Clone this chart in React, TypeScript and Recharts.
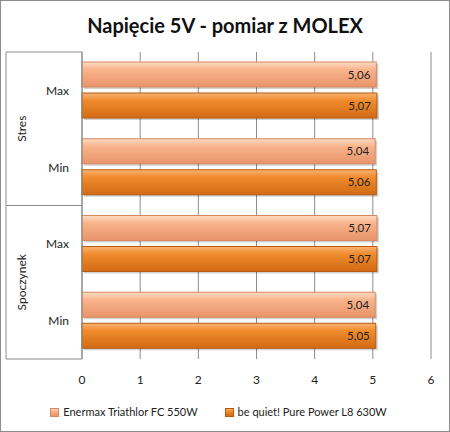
import React from 'react';
import { BarChart, Bar, XAxis, YAxis, CartesianGrid, Legend, LabelList } from 'recharts';

const groups = ['Stres', 'Stres', 'Spoczynek', 'Spoczynek'];
const categories = ['Max', 'Min', 'Max', 'Min'];
const enermax = [5.06, 5.04, 5.07, 5.04];
const bequiet = [5.07, 5.06, 5.07, 5.05];
const xTicks = [0, 1, 2, 3, 4, 5, 6];
const seriesNames = ['Enermax Triathlor FC 550W', 'be quiet! Pure Power L8 630W'];
const title = 'Napięcie 5V - pomiar z MOLEX';

const data = categories.map((c, i) => ({
  key: `${groups[i]}|${c}`,
  sub: c,
  group: groups[i],
  enermax: enermax[i],
  bequiet: bequiet[i],
}));

const W = 450;
const H = 432;
const LEFT = 6;
const OUTER_W = 31;
const INNER_W = 45;
const PLOT_LEFT = LEFT + OUTER_W + INNER_W;
const FONT = 'Lato, "Open Sans", sans-serif';

const fmt = (v: any) => String(v.toFixed ? v.toFixed(2) : v).replace('.', ',');

const GroupTick = (props: any) => {
  const { y, payload } = props;
  const off = payload && typeof payload.offset === 'number' ? payload.offset : 0;
  return (
    <g>
      <text
        x={LEFT + OUTER_W / 2}
        y={y}
        transform={`rotate(-90 ${LEFT + OUTER_W / 2} ${y})`}
        textAnchor="middle"
        dominantBaseline="central"
        fontSize={12}
        fill="#222"
        fontFamily={FONT}
      >
        {payload.value}
      </text>
      {off > 0 && (
        <g stroke="#8c8c8c" strokeWidth={1}>
          <line x1={LEFT} x2={PLOT_LEFT} y1={y - off} y2={y - off} />
          <line x1={LEFT} x2={PLOT_LEFT} y1={y + off} y2={y + off} />
          <line x1={LEFT} x2={LEFT} y1={y - off} y2={y + off} />
        </g>
      )}
    </g>
  );
};

const SubTick = (props: any) => {
  const { x, y, payload } = props;
  const label = String(payload.value).split('|')[1];
  return (
    <text x={x} y={y} textAnchor="end" dominantBaseline="central" fontSize={12} fill="#222" fontFamily={FONT}>
      {label}
    </text>
  );
};

const ShadowBar = (props: any) => {
  const { x, y, width, height, fill, stroke } = props;
  if (!width || width <= 0) return null;
  return (
    <g>
      <rect x={x + 2} y={y + 2} width={width} height={height} fill="rgba(0,0,0,0.18)" />
      <rect x={x} y={y} width={width} height={height} fill={fill} stroke={stroke} strokeWidth={1} />
    </g>
  );
};

const legendColors = [
  ['#FDDCC3', '#F9B48B', '#E8946A', '#D8875E'],
  ['#F9B373', '#F08B2D', '#D26B14', '#B85A10'],
];

const LegendContent = () => (
  <div
    style={{
      display: 'flex',
      justifyContent: 'center',
      alignItems: 'center',
      gap: 27,
      fontFamily: FONT,
      fontSize: 11,
      color: '#222',
      lineHeight: '16px',
    }}
  >
    {seriesNames.map((n, i) => (
      <div key={n} style={{ display: 'flex', alignItems: 'center', gap: 4 }}>
        <span
          style={{
            display: 'inline-block',
            width: 7,
            height: 7,
            background: `linear-gradient(${legendColors[i][0]}, ${legendColors[i][1]} 30%, ${legendColors[i][2]})`,
            border: `1px solid ${legendColors[i][3]}`,
          }}
        />
        <span>{n}</span>
      </div>
    ))}
  </div>
);

export default function App() {
  return (
    <div style={{ position: 'absolute', left: 0, top: 0, width: W, height: H, background: '#fff' }}>
      <div
        style={{
          position: 'absolute',
          left: 0,
          top: 8,
          width: W,
          textAlign: 'center',
          fontFamily: FONT,
          fontWeight: 700,
          fontSize: 20,
          color: '#111',
          lineHeight: '34px',
        }}
      >
        {title}
      </div>
      <BarChart
        width={W}
        height={H}
        data={data}
        layout="vertical"
        margin={{ top: 52, right: 19, bottom: 12, left: LEFT }}
        barSize={25}
        barGap={6}
      >
        <defs>
          <linearGradient id="gEnermax" x1="0" y1="0" x2="0" y2="1">
            <stop offset="0" stopColor="#FDDCC3" />
            <stop offset="0.3" stopColor="#F9B48B" />
            <stop offset="1" stopColor="#E8946A" />
          </linearGradient>
          <linearGradient id="gBequiet" x1="0" y1="0" x2="0" y2="1">
            <stop offset="0" stopColor="#F9B373" />
            <stop offset="0.3" stopColor="#F08B2D" />
            <stop offset="1" stopColor="#D26B14" />
          </linearGradient>
        </defs>
        <CartesianGrid horizontal={false} vertical={true} stroke="#8c8c8c" />
        <XAxis
          type="number"
          domain={[0, 6]}
          ticks={xTicks}
          interval={0}
          axisLine={false}
          tickLine={false}
          height={45}
          tickMargin={10}
          tick={{ fontSize: 12, fill: '#222', fontFamily: FONT }}
        />
        <YAxis
          type="category"
          dataKey="key"
          width={INNER_W}
          tickLine={false}
          tickSize={0}
          tickMargin={13}
          axisLine={{ stroke: '#8c8c8c' }}
          tick={<SubTick />}
        />
        <YAxis
          yAxisId="group"
          type="category"
          dataKey="group"
          allowDuplicatedCategory={false}
          width={OUTER_W}
          tickLine={false}
          axisLine={false}
          tick={<GroupTick />}
        />
        <Legend verticalAlign="bottom" content={<LegendContent />} />
        <Bar
          dataKey="enermax"
          name={seriesNames[0]}
          fill="url(#gEnermax)"
          stroke="#D8875E"
          isAnimationActive={false}
          shape={<ShadowBar />}
        >
          <LabelList dataKey="enermax" position="insideRight" offset={6} formatter={fmt} style={{ fontSize: 11.5, fill: '#222', fontFamily: FONT }} />
        </Bar>
        <Bar
          dataKey="bequiet"
          name={seriesNames[1]}
          fill="url(#gBequiet)"
          stroke="#B85A10"
          isAnimationActive={false}
          shape={<ShadowBar />}
        >
          <LabelList dataKey="bequiet" position="insideRight" offset={6} formatter={fmt} style={{ fontSize: 11.5, fill: '#222', fontFamily: FONT }} />
        </Bar>
      </BarChart>
      <div
        style={{
          position: 'absolute',
          left: 0,
          top: 0,
          width: W,
          height: H,
          boxSizing: 'border-box',
          border: '1px solid #8c8c8c',
          pointerEvents: 'none',
        }}
      />
    </div>
  );
}
